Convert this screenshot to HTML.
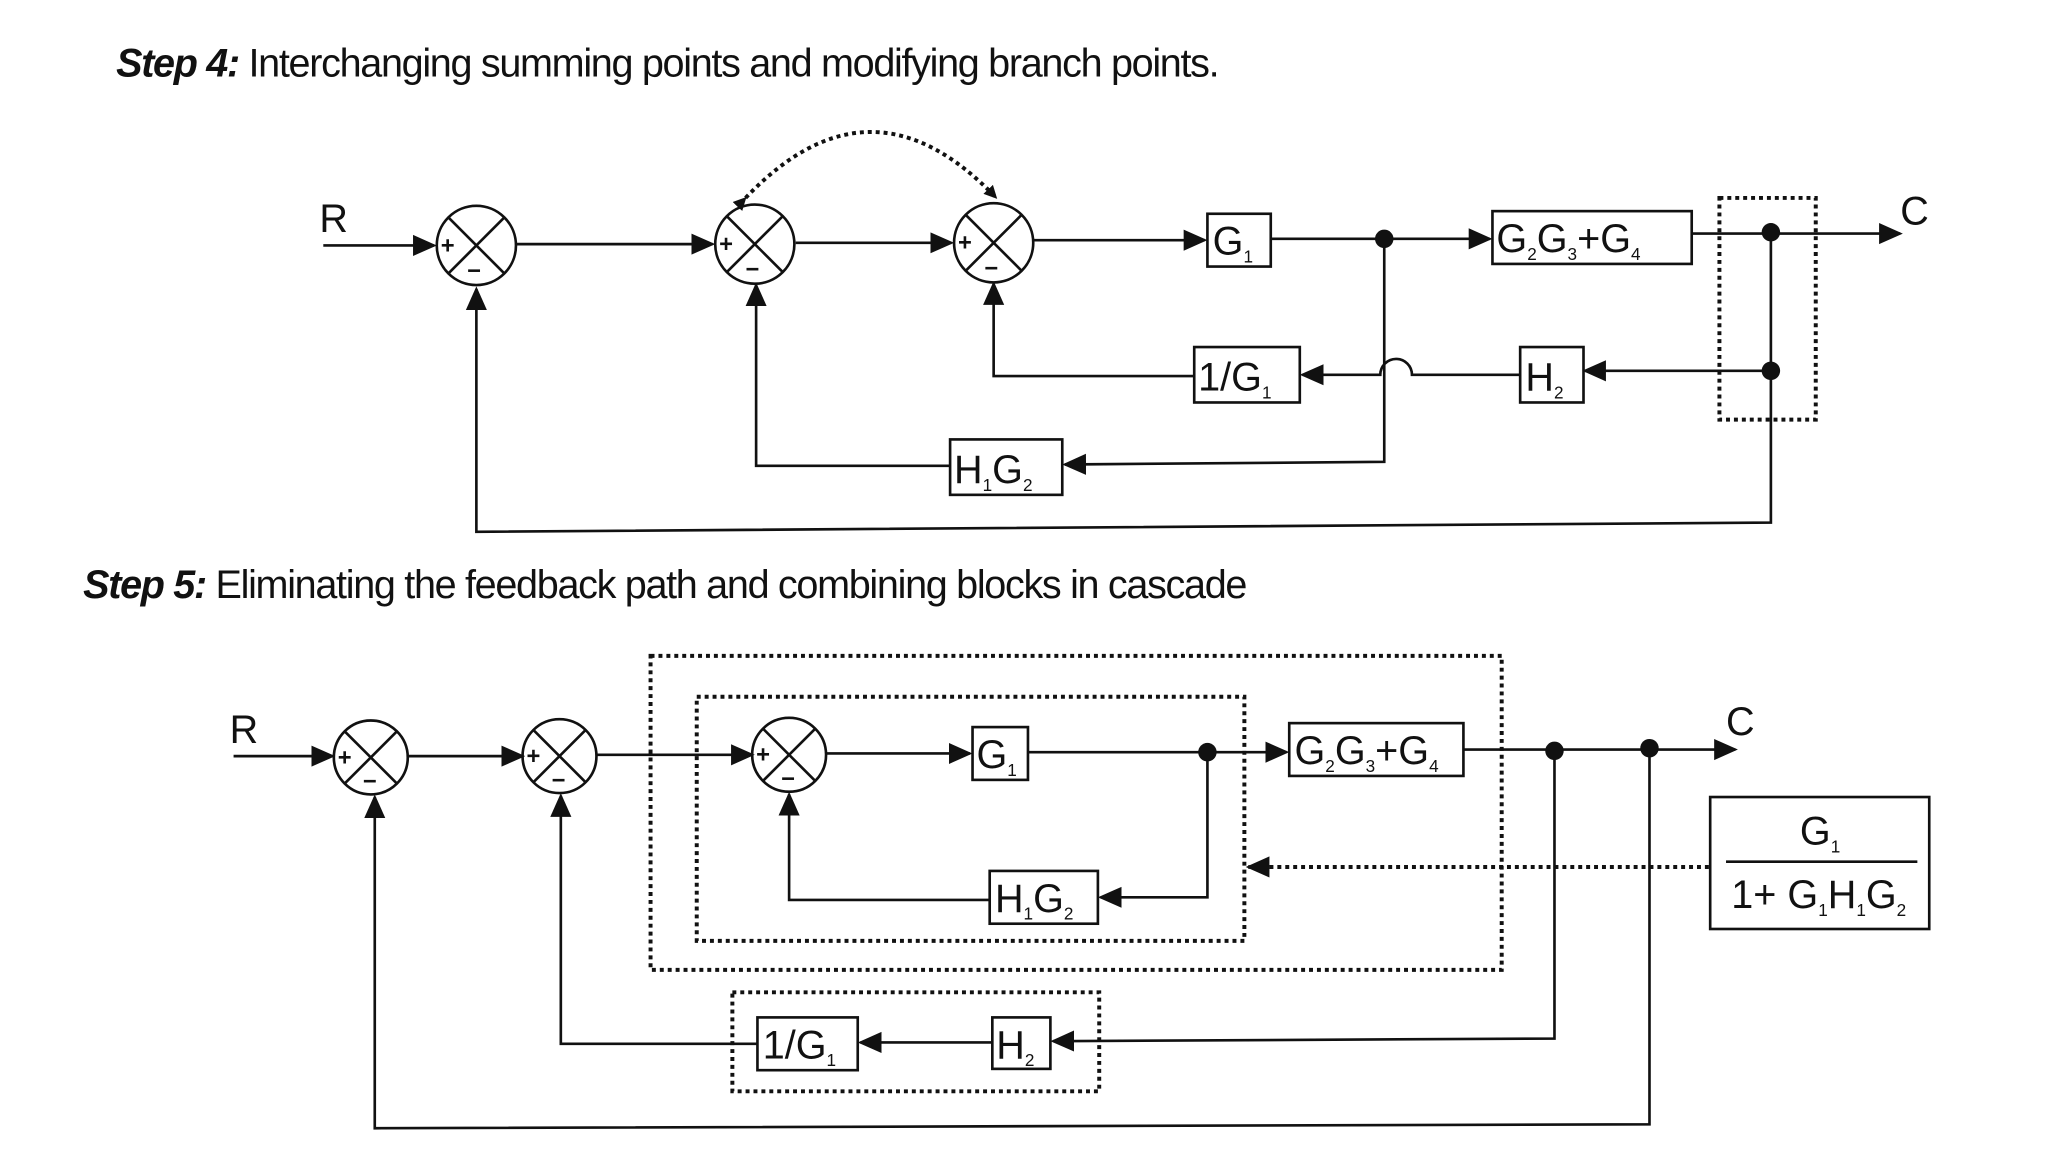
<!DOCTYPE html>
<html><head><meta charset="utf-8"><style>
html,body{margin:0;padding:0;background:#fff;}
svg{display:block}
text{font-family:"Liberation Sans",Arial,sans-serif;fill:#111}
</style></head><body>
<svg width="2048" height="1152" viewBox="0 0 1552 873" preserveAspectRatio="none" xmlns="http://www.w3.org/2000/svg">
<defs>
<marker id="a" markerWidth="10" markerHeight="10" refX="9" refY="5" orient="auto" markerUnits="userSpaceOnUse" viewBox="0 0 10 10"><path d="M0,0 L10,5 L0,10 z" fill="#111"/></marker>
<marker id="b" markerWidth="18" markerHeight="18" refX="16" refY="9" orient="auto" markerUnits="userSpaceOnUse" viewBox="0 0 18 18"><path d="M0,1 L18,9 L0,17 z" fill="#111"/></marker>
</defs>
<rect width="1552" height="873" fill="#fff"/>
<g stroke="#111" stroke-width="2" fill="none">
<!-- STEP 4 -->
<line x1="245" y1="186" x2="329" y2="186" marker-end="url(#b)"/>
<circle cx="361" cy="186" r="30"/>
<line x1="340" y1="165" x2="382" y2="207"/><line x1="382" y1="165" x2="340" y2="207"/>
<line x1="391" y1="185" x2="540" y2="185" marker-end="url(#b)"/>
<circle cx="572" cy="185" r="30"/>
<line x1="551" y1="164" x2="593" y2="206"/><line x1="593" y1="164" x2="551" y2="206"/>
<line x1="603" y1="184" x2="721" y2="184" marker-end="url(#b)"/>
<circle cx="753" cy="184" r="30"/>
<line x1="732" y1="163" x2="774" y2="205"/><line x1="774" y1="163" x2="732" y2="205"/>
<line x1="783" y1="182" x2="913" y2="182" marker-end="url(#b)"/>
<rect x="915" y="162" width="48" height="40"/>
<line x1="963" y1="181" x2="1129" y2="181" marker-end="url(#b)"/>
<rect x="1131" y="160" width="151" height="40"/>
<line x1="1282" y1="177" x2="1440" y2="177" marker-end="url(#b)"/>
<rect x="1303" y="150" width="73" height="168" stroke-dasharray="3,3" stroke-width="3"/>
<path d="M1342,176 L1342,396 L361,403 L361,219" marker-end="url(#b)"/>
<line x1="1342" y1="281" x2="1201" y2="281" marker-end="url(#b)"/>
<rect x="1152" y="263" width="48" height="42"/>
<path d="M1152,284 L1070,284 A12,12 0 0 0 1046,284 L987,284" marker-end="url(#b)"/>
<rect x="905" y="263" width="80" height="42"/>
<path d="M905,285 L753,285 L753,215" marker-end="url(#b)"/>
<path d="M1049,181 L1049,350 L807,352" marker-end="url(#b)"/>
<rect x="720" y="333" width="85" height="42"/>
<path d="M720,353 L573,353 L573,216" marker-end="url(#b)"/>
<path d="M565,150 Q660,50 755,150" stroke-dasharray="3,3" stroke-width="3" marker-start="url(#a)" marker-end="url(#a)"/>
<!-- STEP 5 -->
<line x1="177" y1="573" x2="252" y2="573" marker-end="url(#b)"/>
<circle cx="281" cy="574" r="28"/>
<line x1="261" y1="554" x2="301" y2="594"/><line x1="301" y1="554" x2="261" y2="594"/>
<line x1="309" y1="573" x2="396" y2="573" marker-end="url(#b)"/>
<circle cx="424" cy="573" r="28"/>
<line x1="404" y1="553" x2="444" y2="593"/><line x1="444" y1="553" x2="404" y2="593"/>
<line x1="452" y1="572" x2="570" y2="572" marker-end="url(#b)"/>
<circle cx="598" cy="572" r="28"/>
<line x1="578" y1="552" x2="618" y2="592"/><line x1="618" y1="552" x2="578" y2="592"/>
<line x1="626" y1="571" x2="735" y2="571" marker-end="url(#b)"/>
<rect x="737" y="551" width="42" height="40"/>
<line x1="779" y1="570" x2="975" y2="570" marker-end="url(#b)"/>
<rect x="977" y="548" width="132" height="40"/>
<line x1="1109" y1="568" x2="1315" y2="568" marker-end="url(#b)"/>
<rect x="528" y="528" width="415" height="185" stroke-dasharray="3,3" stroke-width="3"/>
<rect x="493" y="497" width="645" height="238" stroke-dasharray="3,3" stroke-width="3"/>
<path d="M915,570 L915,680 L834,680" marker-end="url(#b)"/>
<rect x="750" y="660" width="82" height="40"/>
<path d="M750,682 L598,682 L598,602" marker-end="url(#b)"/>
<line x1="1295" y1="657" x2="946" y2="657" stroke-dasharray="3,3" stroke-width="3" marker-end="url(#b)"/>
<rect x="1296" y="604" width="166" height="100"/>
<line x1="1308" y1="653" x2="1453" y2="653"/>
<path d="M1178,569 L1178,787 L798,789" marker-end="url(#b)"/>
<rect x="752" y="771" width="44" height="39"/>
<line x1="752" y1="790" x2="652" y2="790" marker-end="url(#b)"/>
<rect x="574" y="771" width="76" height="40"/>
<path d="M574,791 L425,791 L425,603" marker-end="url(#b)"/>
<rect x="555" y="752" width="278" height="75" stroke-dasharray="3,3" stroke-width="3"/>
<path d="M1250,567 L1250,852 L284,855 L284,604" marker-end="url(#b)"/>
</g>
<g fill="#111">
<circle cx="1049" cy="181" r="7"/><circle cx="1342" cy="176" r="7"/><circle cx="1342" cy="281" r="7"/>
<circle cx="915" cy="570" r="7"/><circle cx="1178" cy="569" r="7"/><circle cx="1250" cy="567" r="7"/>
</g>
<!-- text -->
<text x="88" y="58" font-size="30" letter-spacing="-1"><tspan font-style="italic" font-weight="bold">Step 4:</tspan> Interchanging summing points and modifying branch points.</text>
<text x="63" y="453" font-size="30" letter-spacing="-1"><tspan font-style="italic" font-weight="bold">Step 5:</tspan> Eliminating the feedback path and combining blocks in cascade</text>
<g font-size="30">
<text x="242" y="176">R</text><text x="1440" y="170">C</text>
<text x="174" y="563">R</text><text x="1308" y="557">C</text>
<text x="919" y="193">G<tspan font-size="13" dy="6">1</tspan></text>
<text x="1134" y="191">G<tspan font-size="13" dy="6">2</tspan><tspan dy="-6">G</tspan><tspan font-size="13" dy="6">3</tspan><tspan dy="-6">+G</tspan><tspan font-size="13" dy="6">4</tspan></text>
<text x="1156" y="296">H<tspan font-size="13" dy="6">2</tspan></text>
<text x="908" y="296">1/G<tspan font-size="13" dy="6">1</tspan></text>
<text x="723" y="366">H<tspan font-size="13" dy="6">1</tspan><tspan dy="-6">G</tspan><tspan font-size="13" dy="6">2</tspan></text>
<text x="740" y="582">G<tspan font-size="13" dy="6">1</tspan></text>
<text x="981" y="579">G<tspan font-size="13" dy="6">2</tspan><tspan dy="-6">G</tspan><tspan font-size="13" dy="6">3</tspan><tspan dy="-6">+G</tspan><tspan font-size="13" dy="6">4</tspan></text>
<text x="754" y="691">H<tspan font-size="13" dy="6">1</tspan><tspan dy="-6">G</tspan><tspan font-size="13" dy="6">2</tspan></text>
<text x="755" y="802">H<tspan font-size="13" dy="6">2</tspan></text>
<text x="578" y="802">1/G<tspan font-size="13" dy="6">1</tspan></text>
<text x="1364" y="640">G<tspan font-size="13" dy="6">1</tspan></text>
<text x="1312" y="688">1+ G<tspan font-size="13" dy="6">1</tspan><tspan dy="-6">H</tspan><tspan font-size="13" dy="6">1</tspan><tspan dy="-6">G</tspan><tspan font-size="13" dy="6">2</tspan></text>
</g>
<g font-size="18" font-weight="bold">
<text x="334" y="192">+</text><text x="354" y="211">−</text>
<text x="545" y="191">+</text><text x="565" y="210">−</text>
<text x="726" y="190">+</text><text x="746" y="209">−</text>
<text x="256" y="580">+</text><text x="275" y="598">−</text>
<text x="399" y="579">+</text><text x="418" y="597">−</text>
<text x="573" y="578">+</text><text x="592" y="596">−</text>
</g>
</svg>
</body></html>
